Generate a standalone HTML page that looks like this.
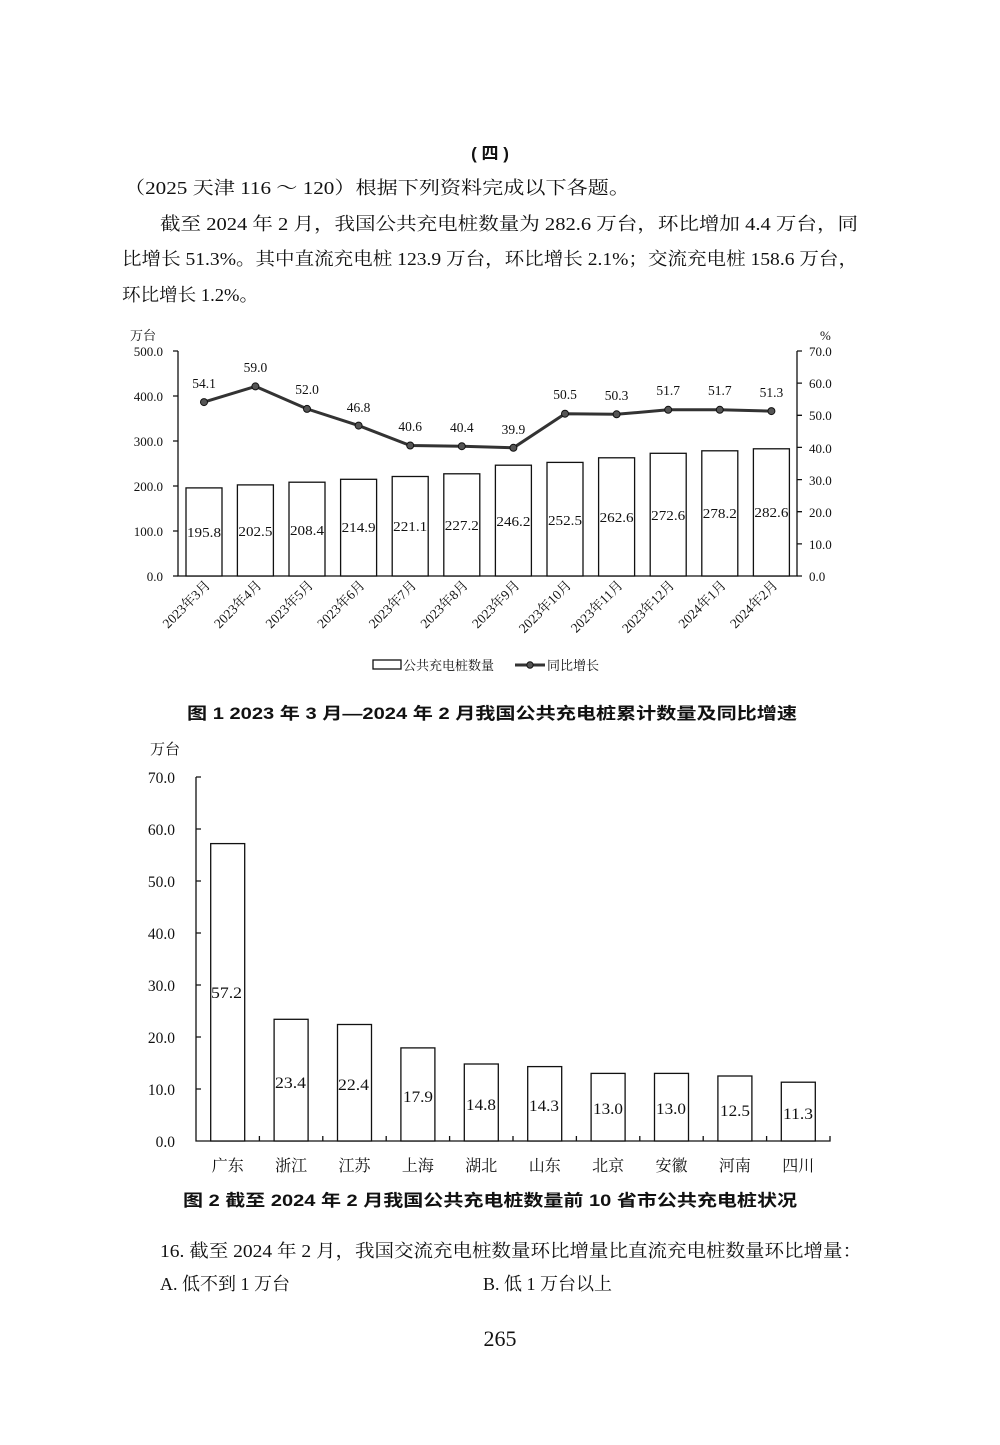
<!DOCTYPE html>
<html><head><meta charset="utf-8"><style>
html,body{margin:0;padding:0;background:#fff;}
svg{display:block;}
.s{font-family:"Liberation Serif","Noto Serif CJK SC",serif;fill:#111;}
.h{font-family:"Liberation Sans","Noto Sans CJK SC",sans-serif;fill:#111;font-weight:bold;}
</style></head><body>
<svg width="1000" height="1445" viewBox="0 0 1000 1445" xmlns="http://www.w3.org/2000/svg">
<rect width="1000" height="1445" fill="#fff"/>
<text class="h" x="490" y="159" font-size="17" text-anchor="middle">( 四 )</text>
<text class="s" x="124" y="194" font-size="18" textLength="506" lengthAdjust="spacingAndGlyphs">（2025 天津 116 ～ 120）根据下列资料完成以下各题。</text>
<text class="s" x="160" y="230" font-size="18" textLength="698" lengthAdjust="spacingAndGlyphs">截至 2024 年 2 月，我国公共充电桩数量为 282.6 万台，环比增加 4.4 万台，同</text>
<text class="s" x="122" y="265" font-size="18" textLength="736" lengthAdjust="spacingAndGlyphs">比增长 51.3%。其中直流充电桩 123.9 万台，环比增长 2.1%；交流充电桩 158.6 万台，</text>
<text class="s" x="122" y="301" font-size="18" textLength="136" lengthAdjust="spacingAndGlyphs">环比增长 1.2%。</text>

<g class="s" font-size="13">
<text x="130" y="340">万台</text>
<text x="820" y="340">%</text>
<g text-anchor="end">
<text x="163" y="356">500.0</text><text x="163" y="401">400.0</text><text x="163" y="446">300.0</text>
<text x="163" y="491">200.0</text><text x="163" y="536">100.0</text><text x="163" y="581">0.0</text>
</g>
<text x="809" y="356">70.0</text><text x="809" y="388">60.0</text><text x="809" y="420">50.0</text>
<text x="809" y="453">40.0</text><text x="809" y="485">30.0</text><text x="809" y="517">20.0</text>
<text x="809" y="549">10.0</text><text x="809" y="581">0.0</text>
</g>
<g stroke="#111" stroke-width="1.3" fill="none">
<path d="M178 351V576H797V351"/>
<path d="M173 351H178M173 396H178M173 441H178M173 486H178M173 531H178M173 576H178"/>
<path d="M797 351H802M797 383.1H802M797 415.3H802M797 447.4H802M797 479.6H802M797 511.7H802M797 543.9H802M797 576H802"/>
</g>
<g fill="#fff" stroke="#111" stroke-width="1.3">
<rect x="186" y="487.9" width="36" height="88.1"/>
<rect x="237.4" y="484.9" width="36" height="91.1"/>
<rect x="289" y="482.2" width="36" height="93.8"/>
<rect x="340.6" y="479.3" width="36" height="96.7"/>
<rect x="392.2" y="476.5" width="36" height="99.5"/>
<rect x="443.8" y="473.8" width="36" height="102.2"/>
<rect x="495.4" y="465.2" width="36" height="110.8"/>
<rect x="547" y="462.4" width="36" height="113.6"/>
<rect x="598.6" y="457.8" width="36" height="118.2"/>
<rect x="650.2" y="453.3" width="36" height="122.7"/>
<rect x="701.8" y="450.8" width="36" height="125.2"/>
<rect x="753.4" y="448.8" width="36" height="127.2"/>
</g>
<g class="s" font-size="13.5" text-anchor="middle">
<text x="204" y="537" textLength="34" lengthAdjust="spacingAndGlyphs">195.8</text><text x="255.4" y="536" textLength="34" lengthAdjust="spacingAndGlyphs">202.5</text><text x="307" y="535" textLength="34" lengthAdjust="spacingAndGlyphs">208.4</text>
<text x="358.6" y="532" textLength="34" lengthAdjust="spacingAndGlyphs">214.9</text><text x="410.2" y="531" textLength="34" lengthAdjust="spacingAndGlyphs">221.1</text><text x="461.8" y="530" textLength="34" lengthAdjust="spacingAndGlyphs">227.2</text>
<text x="513.4" y="526" textLength="34" lengthAdjust="spacingAndGlyphs">246.2</text><text x="565" y="525" textLength="34" lengthAdjust="spacingAndGlyphs">252.5</text><text x="616.6" y="522" textLength="34" lengthAdjust="spacingAndGlyphs">262.6</text>
<text x="668.2" y="520" textLength="34" lengthAdjust="spacingAndGlyphs">272.6</text><text x="719.8" y="518" textLength="34" lengthAdjust="spacingAndGlyphs">278.2</text><text x="771.4" y="517" textLength="34" lengthAdjust="spacingAndGlyphs">282.6</text>
</g>
<polyline fill="none" stroke="#333" stroke-width="3" points="204,402.1 255.4,386.4 307,408.9 358.6,425.6 410.2,445.5 461.8,446.2 513.4,447.8 565,413.7 616.6,414.3 668.2,409.8 719.8,409.8 771.4,411.1"/>
<g fill="#555" stroke="#111" stroke-width="1">
<circle cx="204" cy="402.1" r="3.5"/><circle cx="255.4" cy="386.4" r="3.5"/><circle cx="307" cy="408.9" r="3.5"/>
<circle cx="358.6" cy="425.6" r="3.5"/><circle cx="410.2" cy="445.5" r="3.5"/><circle cx="461.8" cy="446.2" r="3.5"/>
<circle cx="513.4" cy="447.8" r="3.5"/><circle cx="565" cy="413.7" r="3.5"/><circle cx="616.6" cy="414.3" r="3.5"/>
<circle cx="668.2" cy="409.8" r="3.5"/><circle cx="719.8" cy="409.8" r="3.5"/><circle cx="771.4" cy="411.1" r="3.5"/>
</g>
<g class="s" font-size="13.5" text-anchor="middle">
<text x="204" y="388">54.1</text><text x="255.4" y="372">59.0</text><text x="307" y="394">52.0</text>
<text x="358.6" y="412">46.8</text><text x="410.2" y="431">40.6</text><text x="461.8" y="432">40.4</text>
<text x="513.4" y="434">39.9</text><text x="565" y="399">50.5</text><text x="616.6" y="400">50.3</text>
<text x="668.2" y="395">51.7</text><text x="719.8" y="395">51.7</text><text x="771.4" y="397">51.3</text>
</g>
<g class="s" font-size="13.5" text-anchor="end">
<text transform="translate(211,586) rotate(-45)">2023年3月</text>
<text transform="translate(262.4,586) rotate(-45)">2023年4月</text>
<text transform="translate(314,586) rotate(-45)">2023年5月</text>
<text transform="translate(365.6,586) rotate(-45)">2023年6月</text>
<text transform="translate(417.2,586) rotate(-45)">2023年7月</text>
<text transform="translate(468.8,586) rotate(-45)">2023年8月</text>
<text transform="translate(520.4,586) rotate(-45)">2023年9月</text>
<text transform="translate(572,586) rotate(-45)">2023年10月</text>
<text transform="translate(623.6,586) rotate(-45)">2023年11月</text>
<text transform="translate(675.2,586) rotate(-45)">2023年12月</text>
<text transform="translate(726.8,586) rotate(-45)">2024年1月</text>
<text transform="translate(778.4,586) rotate(-45)">2024年2月</text>
</g>
<rect x="373" y="660" width="28" height="9" fill="#fff" stroke="#111" stroke-width="1.3"/>
<text class="s" x="403" y="670" font-size="13">公共充电桩数量</text>
<line x1="515" y1="665" x2="545" y2="665" stroke="#333" stroke-width="3"/>
<circle cx="530" cy="665" r="3.2" fill="#555" stroke="#111"/>
<text class="s" x="547" y="670" font-size="13">同比增长</text>
<text class="h" x="187" y="719" font-size="16.5" textLength="610" lengthAdjust="spacingAndGlyphs">图 1   2023 年 3 月—2024 年 2 月我国公共充电桩累计数量及同比增速</text>

<text class="s" x="150" y="754" font-size="15">万台</text>
<g class="s" font-size="15.5" text-anchor="end">
<text x="175" y="783">70.0</text><text x="175" y="835">60.0</text><text x="175" y="887">50.0</text>
<text x="175" y="939">40.0</text><text x="175" y="991">30.0</text><text x="175" y="1043">20.0</text>
<text x="175" y="1095">10.0</text><text x="175" y="1147">0.0</text>
</g>
<g stroke="#111" stroke-width="1.3" fill="none">
<path d="M196 777V1141H830V1136"/>
<path d="M196 777H201M196 829H201M196 881H201M196 933H201M196 985H201M196 1037H201M196 1089H201"/>
<path d="M259.4 1141V1136M322.8 1141V1136M386.2 1141V1136M449.6 1141V1136M513 1141V1136M576.4 1141V1136M639.8 1141V1136M703.2 1141V1136M766.6 1141V1136"/>
</g>
<g fill="#fff" stroke="#111" stroke-width="1.3">
<rect x="210.7" y="843.6" width="34" height="297.4"/>
<rect x="274.1" y="1019.3" width="34" height="121.7"/>
<rect x="337.5" y="1024.5" width="34" height="116.5"/>
<rect x="400.9" y="1047.9" width="34" height="93.1"/>
<rect x="464.3" y="1064" width="34" height="77"/>
<rect x="527.7" y="1066.6" width="34" height="74.4"/>
<rect x="591.1" y="1073.4" width="34" height="67.6"/>
<rect x="654.5" y="1073.4" width="34" height="67.6"/>
<rect x="717.9" y="1076" width="34" height="65"/>
<rect x="781.3" y="1082.2" width="34" height="58.8"/>
</g>
<g class="s" font-size="16">
<text x="211" y="998" textLength="31" lengthAdjust="spacingAndGlyphs">57.2</text><text x="275" y="1088" textLength="31" lengthAdjust="spacingAndGlyphs">23.4</text><text x="338" y="1090" textLength="31" lengthAdjust="spacingAndGlyphs">22.4</text>
<text x="403" y="1102" textLength="30" lengthAdjust="spacingAndGlyphs">17.9</text><text x="466" y="1110" textLength="30" lengthAdjust="spacingAndGlyphs">14.8</text><text x="529" y="1111" textLength="30" lengthAdjust="spacingAndGlyphs">14.3</text>
<text x="593" y="1114" textLength="30" lengthAdjust="spacingAndGlyphs">13.0</text><text x="656" y="1114" textLength="30" lengthAdjust="spacingAndGlyphs">13.0</text><text x="720" y="1116" textLength="30" lengthAdjust="spacingAndGlyphs">12.5</text>
<text x="783" y="1119" textLength="30" lengthAdjust="spacingAndGlyphs">11.3</text>
</g>
<g class="s" font-size="16" text-anchor="middle">
<text x="227.7" y="1171">广东</text><text x="291.1" y="1171">浙江</text><text x="354.5" y="1171">江苏</text>
<text x="417.9" y="1171">上海</text><text x="481.3" y="1171">湖北</text><text x="544.7" y="1171">山东</text>
<text x="608.1" y="1171">北京</text><text x="671.5" y="1171">安徽</text><text x="734.9" y="1171">河南</text>
<text x="798.3" y="1171">四川</text>
</g>
<text class="h" x="183" y="1206" font-size="16.5" textLength="614" lengthAdjust="spacingAndGlyphs">图 2   截至 2024 年 2 月我国公共充电桩数量前 10 省市公共充电桩状况</text>

<text class="s" x="160" y="1257" font-size="18" textLength="702" lengthAdjust="spacingAndGlyphs">16. 截至 2024 年 2 月，我国交流充电桩数量环比增量比直流充电桩数量环比增量：</text>
<text class="s" x="160" y="1290" font-size="18">A. 低不到 1 万台</text>
<text class="s" x="483" y="1290" font-size="18">B. 低 1 万台以上</text>
<text class="s" x="500" y="1346" font-size="22" text-anchor="middle">265</text>
</svg>
</body></html>
